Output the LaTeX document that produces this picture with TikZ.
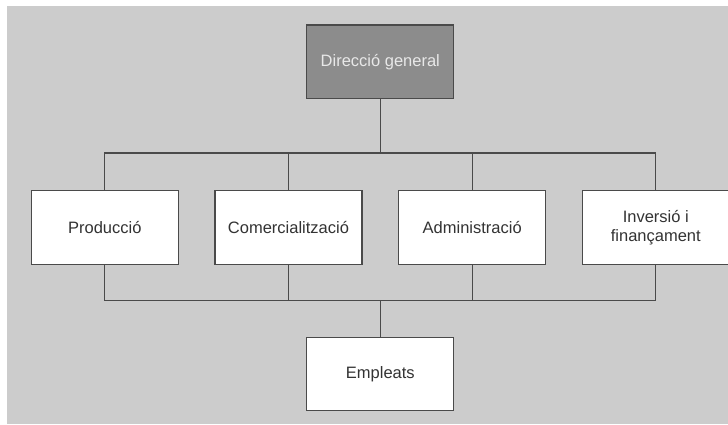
\documentclass[tikz,border=0pt]{standalone}
\usepackage{fontspec}
\setmainfont{Liberation Sans}
\definecolor{panel}{HTML}{CCCCCC}
\definecolor{headfill}{HTML}{8C8C8C}
\definecolor{edge}{HTML}{4A4A4A}
\definecolor{ink}{HTML}{333333}
\definecolor{headink}{HTML}{E8E8E8}
\begin{document}
\begin{tikzpicture}[x=1pt,y=-1pt,
  unit/.style={draw=edge,line width=1.2pt,fill=white,minimum width=147pt,minimum height=73.5pt,
    inner sep=0pt,align=center,text=ink,font=\fontsize{16.5}{19.5}\selectfont},
  head/.style={unit,fill=headfill,text=headink},
  wire/.style={draw=edge,line width=1.2pt}]
\useasboundingbox (0,0) rectangle (728,424);
\clip (0,0) rectangle (728,424);
\fill[panel] (7,6) rectangle (728,424);

% boxes
\node[head] (dg)  at (380.3,61.8)  {Direcció general};
\node[unit] (p)   at (104.8,227.5) {Producció};
\node[unit] (c)   at (288.5,227.5) {Comercialització};
\node[unit] (a)   at (472.2,227.5) {Administració};
\node[unit] (inv) at (655.8,227.5) {Inversió i\\finançament};
\node[unit] (e)   at (380.3,374)   {Empleats};

% upper bus
\coordinate (tbus) at (380.3,153);
\draw[wire] (dg.south) -- (tbus);
\draw[wire] (p.north) |- (inv.north |- tbus) -- (inv.north);
\draw[wire] (c.north) -- (c.north |- tbus);
\draw[wire] (a.north) -- (a.north |- tbus);

% lower bus
\coordinate (bbus) at (380.3,300.7);
\draw[wire] (p.south) |- (inv.south |- bbus) -- (inv.south);
\draw[wire] (c.south) -- (c.south |- bbus);
\draw[wire] (a.south) -- (a.south |- bbus);
\draw[wire] (bbus) -- (e.north);
\end{tikzpicture}
\end{document}
